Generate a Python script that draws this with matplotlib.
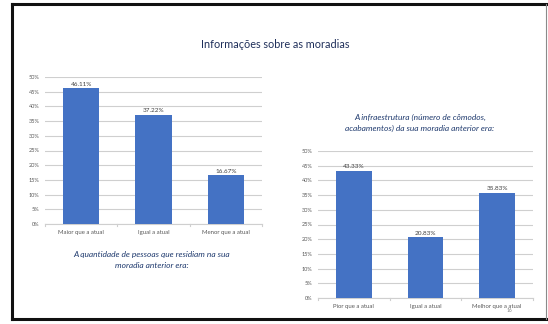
import matplotlib
matplotlib.use("Agg")
import matplotlib.pyplot as plt
from matplotlib.lines import Line2D

plt.rcParams['font.family'] = ['Lato', 'DejaVu Sans']

# Data
title = "Informações sobre as moradias"

people_categories = ["Maior que a atual", "Igual a atual", "Menor que a atual"]
people_values = [46.11, 37.22, 16.67]
people_caption = "A quantidade de pessoas que residiam na sua\nmoradia anterior era:"

infra_categories = ["Pior que a atual", "Igual a atual", "Melhor que a atual"]
infra_values = [43.33, 20.83, 35.83]
infra_caption = "A infraestrutura (número de cômodos,\nacabamentos) da sua moradia anterior era:"

y_ticks = [0, 5, 10, 15, 20, 25, 30, 35, 40, 45, 50]

W, H = 548, 324
BAR = "#4472C4"
GRID = "#cfcfcf"
TICK = "#595959"
CAPTION = "#1f3a6e"

fig = plt.figure(figsize=(W / 100, H / 100), dpi=100)
fig.patch.set_facecolor("white")


def px_axes(x0, y0, x1, y1):
    return fig.add_axes([x0 / W, 1 - y1 / H, (x1 - x0) / W, (y1 - y0) / H])


def bar_panel(ax, cats, vals):
    x = list(range(len(cats)))
    ax.bar(x, vals, width=0.5, color=BAR, zorder=3)
    ax.set_xlim(-0.5, len(cats) - 0.5)
    ax.set_ylim(0, 50)
    ax.set_yticks(y_ticks)
    ax.set_yticklabels([f"{t}%" for t in y_ticks])
    ax.yaxis.grid(True, color=GRID, linewidth=0.8, zorder=0)
    ax.set_xticks(x)
    ax.set_xticklabels(cats)
    ax.tick_params(axis="y", length=0, labelsize=4, labelcolor=TICK, pad=4)
    ax.tick_params(axis="x", length=0, labelsize=4.3, labelcolor=TICK, pad=4)
    for s in ["top", "right", "left"]:
        ax.spines[s].set_visible(False)
    ax.spines["bottom"].set_color(GRID)
    ax.spines["bottom"].set_linewidth(0.8)
    # small separator ticks between categories
    for b in [i + 0.5 for i in range(-1, len(cats))]:
        ax.plot([b, b], [0, -0.7], color=GRID, lw=0.8, clip_on=False)
    for xi, v in zip(x, vals):
        ax.text(xi, v + 0.4, f"{v:.2f}%", ha="center", va="bottom",
                fontsize=4.6, color="#404040", zorder=4)


ax1 = px_axes(45, 77, 262, 224)
bar_panel(ax1, people_categories, people_values)

ax2 = px_axes(318, 151, 533, 298)
bar_panel(ax2, infra_categories, infra_values)

fig.text(275 / W, 1 - 44 / H, title, ha="center", va="center",
         fontsize=7.8, color="#1f2f5a")
fig.text(152 / W, 1 - 260 / H, people_caption, ha="center", va="center",
         fontsize=6, style="italic", color=CAPTION, linespacing=1.5)
fig.text(420 / W, 1 - 123 / H, infra_caption, ha="center", va="center",
         fontsize=6, style="italic", color=CAPTION, linespacing=1.5)
fig.text(509 / W, 1 - 311 / H, "16", ha="center", va="center",
         fontsize=3.5, color="#808080")

# Slide frame: heavy on top, left and bottom, thin grey on the right
def frame_line(xs, ys, color, lw):
    fig.add_artist(Line2D([x / W for x in xs], [1 - y / H for y in ys],
                          transform=fig.transFigure, color=color, lw=lw,
                          solid_capstyle="projecting"))

frame_line([12, 546], [4, 4], "#111111", 2.2)
frame_line([12, 12], [4, 319], "#111111", 2.2)
frame_line([12, 546], [319, 319], "#111111", 2.2)
frame_line([546, 546], [4, 319], "#8a8a8a", 0.8)

fig.savefig("out.png", dpi=100, facecolor="white")
